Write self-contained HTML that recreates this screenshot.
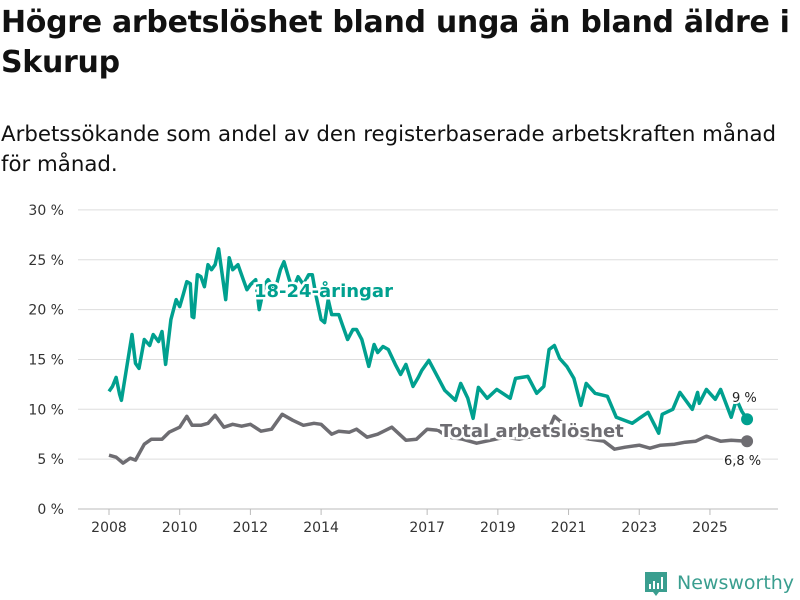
<!DOCTYPE html>
<html><head><meta charset="utf-8"><style>
body{margin:0;background:#fff;width:800px;height:600px;overflow:hidden;font-family:"DejaVu Sans","Liberation Sans",sans-serif;color:#111}
h1{position:absolute;left:1px;top:3px;margin:0;font-size:30px;line-height:40px;font-weight:bold;width:799px;letter-spacing:-0.3px;white-space:nowrap}
.sub{position:absolute;left:1px;top:120px;font-size:21.3px;line-height:30px;width:799px;white-space:nowrap}
svg{position:absolute;left:0;top:0;font-family:"DejaVu Sans","Liberation Sans",sans-serif}
</style></head><body>
<h1>Högre arbetslöshet bland unga än bland äldre i<br>Skurup</h1>
<div class="sub">Arbetssökande som andel av den registerbaserade arbetskraften månad<br>för månad.</div>
<svg id="c" width="800" height="600"></svg>
<script>
const yTicks=[0,5,10,15,20,25,30];
const xTickYears=[2008,2010,2012,2014,2017,2019,2021,2023,2025];
const youthX=[2008.0,2008.1,2008.2,2008.3,2008.35,2008.5,2008.65,2008.75,2008.85,2009.0,2009.15,2009.25,2009.4,2009.5,2009.6,2009.75,2009.9,2010.0,2010.1,2010.2,2010.3,2010.35,2010.4,2010.5,2010.6,2010.7,2010.8,2010.9,2011.0,2011.1,2011.3,2011.4,2011.5,2011.65,2011.8,2011.9,2012.0,2012.15,2012.25,2012.4,2012.5,2012.7,2012.85,2012.95,2013.1,2013.2,2013.35,2013.5,2013.65,2013.75,2013.85,2014.0,2014.1,2014.2,2014.3,2014.5,2014.6,2014.75,2014.9,2015.0,2015.15,2015.35,2015.5,2015.6,2015.75,2015.9,2016.1,2016.25,2016.4,2016.6,2016.75,2016.85,2017.05,2017.5,2017.8,2017.95,2018.15,2018.3,2018.45,2018.7,2018.97,2019.35,2019.5,2019.85,2020.1,2020.3,2020.45,2020.6,2020.75,2020.95,2021.15,2021.35,2021.5,2021.75,2022.1,2022.35,2022.8,2023.0,2023.25,2023.55,2023.65,2023.95,2024.15,2024.5,2024.65,2024.7,2024.9,2025.15,2025.3,2025.6,2025.75,2025.9,2026.05];
const youthVals=[11.8,12.3,13.2,11.5,10.9,14.2,17.5,14.6,14.1,17.0,16.4,17.5,16.8,17.8,14.5,19.0,21.0,20.3,21.5,22.8,22.6,19.3,19.2,23.5,23.3,22.3,24.5,24.0,24.5,26.1,21.0,25.2,24.0,24.5,23.0,22.0,22.5,23.0,20.0,22.5,23.0,22.0,24.0,24.8,23.0,22.0,23.3,22.5,23.5,23.5,21.5,19.0,18.7,21.0,19.5,19.5,18.5,17.0,18.0,18.0,17.0,14.3,16.5,15.7,16.3,16.0,14.5,13.5,14.5,12.3,13.2,13.9,14.9,11.9,10.9,12.6,11.1,9.1,12.2,11.1,12.0,11.1,13.1,13.3,11.6,12.3,16.0,16.4,15.1,14.3,13.1,10.4,12.6,11.6,11.3,9.2,8.6,9.1,9.7,7.6,9.5,10.0,11.7,10.0,11.7,10.6,12.0,11.0,12.0,9.2,11.0,9.8,9.0];
const totalX=[2008.0,2008.2,2008.4,2008.6,2008.75,2009.0,2009.2,2009.5,2009.7,2010.0,2010.2,2010.35,2010.6,2010.8,2011.0,2011.25,2011.5,2011.75,2012.0,2012.3,2012.6,2012.9,2013.2,2013.5,2013.8,2014.0,2014.3,2014.5,2014.8,2015.0,2015.3,2015.6,2016.0,2016.4,2016.7,2017.0,2017.3,2017.6,2018.0,2018.4,2018.8,2019.2,2019.6,2020.0,2020.4,2020.6,2020.9,2021.3,2021.6,2022.0,2022.3,2022.6,2023.0,2023.3,2023.6,2024.0,2024.3,2024.6,2024.9,2025.3,2025.6,2026.05];
const totalVals=[5.4,5.2,4.6,5.1,4.9,6.5,7.0,7.0,7.7,8.2,9.3,8.4,8.4,8.6,9.4,8.2,8.5,8.3,8.5,7.8,8.0,9.5,8.9,8.4,8.6,8.5,7.5,7.8,7.7,8.0,7.2,7.5,8.2,6.9,7.0,8.0,7.9,7.2,7.0,6.6,6.9,7.2,7.0,7.3,7.6,9.3,8.4,7.2,7.0,6.8,6.0,6.2,6.4,6.1,6.4,6.5,6.7,6.8,7.3,6.8,6.9,6.8];
const NS="http://www.w3.org/2000/svg";
const svg=document.getElementById('c');
const X=y=>109+(y-2008)*35.35, Y=v=>509-v*9.97;
function mk(t,a,p){const e=document.createElementNS(NS,t);for(const k in a)e.setAttribute(k,a[k]);(p||svg).appendChild(e);return e;}
yTicks.forEach(v=>{
 const l=mk('line',{x1:78,x2:778,y1:Y(v),y2:Y(v),stroke:v===0?'#bbb':'#ddd','stroke-width':1});
 
 
 const t=mk('text',{x:64,y:Y(v)+5,'text-anchor':'end','font-size':14,fill:'#333'});t.textContent=v+' %';
 
 
});
xTickYears.forEach(yr=>{
 const l=mk('line',{x1:X(yr),x2:X(yr),y1:509,y2:515,stroke:'#bbb'});
 
 
 const t=mk('text',{x:X(yr),y:532,'text-anchor':'middle','font-size':14,fill:'#333'});t.textContent=yr;
 
 
});
function line(xs,vs,col,name){
 const d=xs.map((x,i)=>(i?'L':'M')+X(x).toFixed(1)+','+Y(vs[i]).toFixed(1)).join('');
 const p=mk('path',{d:d,fill:'none',stroke:col,'stroke-width':3.5,'stroke-linejoin':'round'});
 
 
 const n=xs.length-1;
 const c=mk('circle',{cx:X(xs[n]),cy:Y(vs[n]),r:6,fill:col});
 
 
}
line(totalX,totalVals,'#6e6d72','total');
line(youthX,youthVals,'#00a08f','youth');
function lab(txt,x,y,col,sz,bold,name,anchor){
 const t=mk('text',{x:x,y:y,'font-size':sz,'font-weight':bold?'bold':'normal',fill:col,stroke:'#fff','stroke-width':bold?5:4,'paint-order':'stroke','text-anchor':anchor||'start'});
 t.textContent=txt;
 
 
}
lab('18-24-åringar',254,297,'#00a08f',18,true,'youth-series-label');
lab('Total arbetslöshet',440,437,'#6e6d72',18,true,'total-series-label');
lab('9 %',732,402,'#222',13,false,'youth-end-value');
lab('6,8 %',724,465,'#222',13,false,'total-end-value');
const g=mk('g',{});


mk('path',{d:'M645 572h22v20h-8l-3 4-3-4h-8z',fill:'#3a9e8f'},g);
mk('rect',{x:649,y:584,width:2,height:5,fill:'#fff'},g);
mk('rect',{x:653,y:581,width:2,height:8,fill:'#fff'},g);
mk('rect',{x:657,y:583,width:2,height:6,fill:'#fff'},g);
mk('rect',{x:661,y:577,width:2,height:12,fill:'#fff'},g);
const lt=mk('text',{x:677,y:589,'font-size':19,fill:'#3a9e8f'},g);lt.textContent='Newsworthy';
</script>
</body></html>
